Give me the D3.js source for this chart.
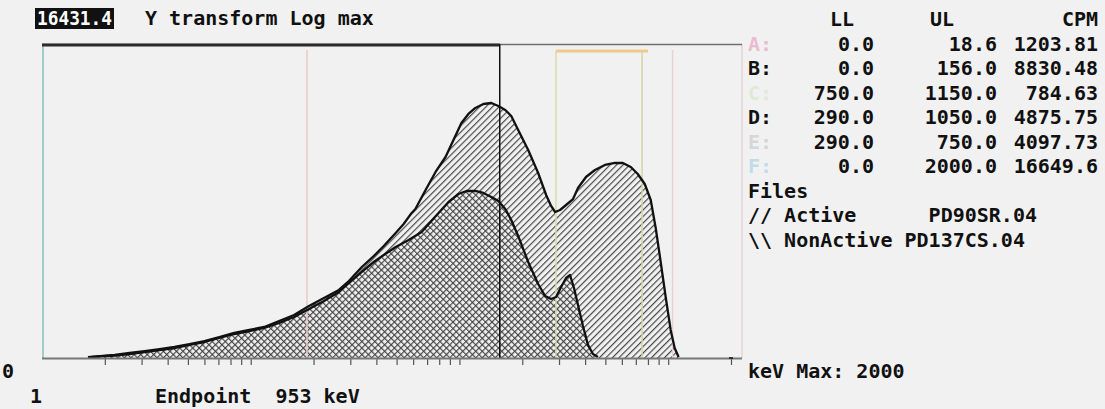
<!DOCTYPE html>
<html>
<head>
<meta charset="utf-8">
<script src="https://cdn.jsdelivr.net/npm/d3@7"></script>
<style>
  html, body { margin: 0; padding: 0; background: #f1f1f1; }
  svg { display: block; }
  text { font-family: "DejaVu Sans Mono", monospace; font-weight: bold; font-size: 20px; fill: #111; }
</style>
</head>
<body>
<svg id="chart" width="1105" height="409"></svg>
<script>
// ---- Spectrum data (energy in keV, counts per channel) ----
const activeKeV = [1.66, 1.89, 2.23, 2.63, 3.10, 3.66, 4.31, 5.09, 6.00, 7.07, 8.34, 9.84, 11.6, 13.68, 16.13, 19.02, 22.43, 26.45, 29.53, 34.06, 38.86, 43.38, 49.49, 54.04, 58.9, 61.5, 68.83, 76.84, 85.77, 93.63, 102.2, 110.4, 119.2, 130.2, 142.2, 153.6, 165.8, 177.1, 191.2, 213.5, 238.3, 260.2, 274.9, 287.2, 303.5, 324.2, 350.1, 369.8, 403.9, 445.9, 497.7, 555.5, 606.6, 662.2, 715.1, 772.3, 825.0, 871.6, 920.8, 972.9, 1028, 1074, 1122];
const activeCounts = [1.03, 1.06, 1.10, 1.17, 1.24, 1.32, 1.41, 1.54, 1.69, 1.91, 2.17, 2.38, 2.61, 3.14, 3.78, 4.99, 6.39, 8.19, 10.81, 16.67, 23.42, 31.89, 47.69, 62.97, 88.0, 100.0, 180.2, 314.4, 499.5, 845.2, 1429, 1888, 2273, 2572, 2653, 2418, 2137, 1775, 1151, 620.3, 304.6, 154.3, 109.9, 91.25, 97.06, 113.3, 136.3, 191.6, 269.2, 334.3, 390.2, 415.0, 415.0, 366.7, 295.4, 216.8, 132.2, 55.65, 19.45, 6.59, 2.38, 1.36, 1.03];

const nonActiveKeV = [1.70, 1.89, 2.23, 2.63, 3.10, 3.66, 4.31, 5.09, 6.00, 7.07, 8.34, 9.84, 11.6, 13.68, 16.13, 19.02, 22.43, 26.45, 29.53, 34.06, 38.86, 43.38, 49.49, 57.10, 65.87, 72.71, 79.40, 88.62, 98.92, 108.0, 119.2, 130.2, 142.2, 153.6, 165.8, 177.1, 191.2, 213.5, 238.3, 257.4, 274.9, 290.4, 306.9, 324.2, 338.8, 353.9, 369.8, 390.7, 412.8, 436.1, 460.8];
const nonActiveCounts = [1.03, 1.05, 1.08, 1.13, 1.20, 1.28, 1.36, 1.50, 1.64, 1.86, 2.10, 2.30, 2.53, 2.95, 3.55, 4.55, 5.83, 7.69, 10.16, 14.28, 19.45, 24.15, 30.93, 38.39, 49.17, 66.97, 88.45, 124.3, 159.2, 174.7, 174.7, 164.2, 145.1, 128.2, 100.1, 71.26, 43.45, 19.45, 9.85, 6.80, 6.20, 6.59, 8.98, 11.86, 13.01, 8.71, 5.15, 2.69, 1.50, 1.13, 1.03];

// ---- Counting regions ----
const regionNames = ["A", "B", "C", "D", "E", "F"];
const regionLL = [0.0, 0.0, 750.0, 290.0, 290.0, 0.0];
const regionUL = [18.6, 156.0, 1150.0, 1050.0, 750.0, 2000.0];
const regionCPM = ["1203.81", "8830.48", "784.63", "4875.75", "4097.73", "16649.6"];
const regionColors = ["#e9bcd0", "#111111", "#e0e9d8", "#111111", "#d6d6d6", "#c2dbea"];

const fileTags = ["// Active      ", "\\\\ NonActive "];
const fileNames = ["PD90SR.04", "PD137CS.04"];

const yMaxCounts = 16431.4;
const keVMax = 2000;
const endpointKeV = 953;

// ---- Scales ----
const svg = d3.select("#chart");
const plot = { left: 42, right: 731, top: 44, bottom: 358, frameRight: 742 };

const x = d3.scaleLog().domain([1, keVMax]).range([plot.left, plot.right]);
const y = d3.scaleLog().domain([1, yMaxCounts]).range([plot.bottom, plot.top]);

// ---- Hatch patterns ----
const defs = svg.append("defs");
function hatch(id, angle) {
  const p = defs.append("pattern")
    .attr("id", id)
    .attr("patternUnits", "userSpaceOnUse")
    .attr("width", 4.6).attr("height", 4.6)
    .attr("patternTransform", `rotate(${angle})`);
  p.append("line")
    .attr("x1", 0.6).attr("y1", -1).attr("x2", 0.6).attr("y2", 6)
    .attr("stroke", "#3c3c3c").attr("stroke-width", 1.1);
}
hatch("hatchActive", 45);
hatch("hatchNonActive", -45);

// ---- Frame ----
svg.append("rect")
  .attr("x", plot.left).attr("y", plot.top)
  .attr("width", plot.frameRight - plot.left).attr("height", plot.bottom - plot.top)
  .attr("fill", "#f1f1f1").attr("stroke", "none");

svg.append("line")
  .attr("x1", plot.frameRight).attr("x2", plot.frameRight)
  .attr("y1", plot.top).attr("y2", plot.bottom)
  .attr("stroke", "#e2d4d6").attr("stroke-width", 1.5);
svg.append("line")
  .attr("x1", plot.left).attr("x2", plot.frameRight)
  .attr("y1", plot.top + 0.5).attr("y2", plot.top + 0.5)
  .attr("stroke", "#6f6f6f").attr("stroke-width", 1.5);
// Left edge (region F lower limit)
svg.append("line")
  .attr("x1", plot.left + 1).attr("x2", plot.left + 1)
  .attr("y1", plot.top).attr("y2", plot.bottom)
  .attr("stroke", "#9fcfc2").attr("stroke-width", 2);

// ---- Spectra ----
const activePts = activeKeV.map((e, i) => [e, activeCounts[i]]);
const nonActivePts = nonActiveKeV.map((e, i) => [e, nonActiveCounts[i]]);

const area = d3.area()
  .x(d => x(d[0]))
  .y0(y(1))
  .y1(d => y(Math.max(1, d[1])));
const line = d3.line()
  .x(d => x(d[0]))
  .y(d => y(Math.max(1, d[1])));

svg.append("path").datum(activePts)
  .attr("d", area).attr("fill", "url(#hatchActive)");
svg.append("path").datum(nonActivePts)
  .attr("d", area).attr("fill", "url(#hatchNonActive)");

// ---- Region limit markers ----
const markerLines = [
  { e: regionUL[0], color: "#e7c9cf", w: 1.5, top: plot.top + 6 },   // A upper limit
  { e: regionLL[3], color: "#d9dca6", w: 1.5, top: plot.top + 7 },   // D/E lower limit
  { e: regionUL[4], color: "#d3d6a6", w: 1.5, top: plot.top + 7 },   // E upper / C lower limit
  { e: regionUL[3], color: "#ead0d0", w: 1.5, top: plot.top + 6 }    // D upper limit
];
svg.selectAll("line.marker").data(markerLines).enter().append("line")
  .attr("class", "marker")
  .attr("x1", d => x(d.e)).attr("x2", d => x(d.e))
  .attr("y1", d => d.top).attr("y2", plot.bottom)
  .attr("stroke", d => d.color).attr("stroke-width", d => d.w);

// Region bars along the top edge
svg.append("line")
  .attr("x1", x(1)).attr("x2", x(regionUL[1]))
  .attr("y1", plot.top + 1).attr("y2", plot.top + 1)
  .attr("stroke", "#2e2a30").attr("stroke-width", 3);
svg.append("line")
  .attr("x1", x(regionLL[4])).attr("x2", x(regionUL[4]) + 6)
  .attr("y1", plot.top + 7).attr("y2", plot.top + 7)
  .attr("stroke", "#f1c98f").attr("stroke-width", 3);

// Outlines
svg.append("path").datum(activePts)
  .attr("d", line).attr("fill", "none")
  .attr("stroke", "#111").attr("stroke-width", 2.3).attr("stroke-linejoin", "round");
svg.append("path").datum(nonActivePts)
  .attr("d", line).attr("fill", "none")
  .attr("stroke", "#111").attr("stroke-width", 2.3).attr("stroke-linejoin", "round");

// Region B upper limit
svg.append("line")
  .attr("x1", x(regionUL[1])).attr("x2", x(regionUL[1]))
  .attr("y1", plot.top).attr("y2", plot.bottom)
  .attr("stroke", "#111").attr("stroke-width", 1.5);

// ---- Energy axis ----
const axis = d3.axisBottom(x)
  .tickValues(x.ticks().filter(t => t > 1))
  .tickFormat("")
  .tickSizeInner(7)
  .tickSizeOuter(0);
const gAxis = svg.append("g")
  .attr("transform", `translate(0,${plot.bottom})`)
  .call(axis);
gAxis.select(".domain").remove();
gAxis.selectAll(".tick line").attr("stroke", "#555").attr("stroke-width", 1.2);
svg.append("line")
  .attr("x1", plot.left).attr("x2", plot.frameRight)
  .attr("y1", plot.bottom + 0.5).attr("y2", plot.bottom + 0.5)
  .attr("stroke", "#777").attr("stroke-width", 2);
svg.append("line")
  .attr("x1", x(keVMax) - 2).attr("x2", x(keVMax) + 2)
  .attr("y1", plot.bottom).attr("y2", plot.bottom)
  .attr("stroke", "#111").attr("stroke-width", 1.5);

// ---- Text ----
// Y max badge
svg.append("rect").attr("x", 35).attr("y", 8).attr("width", 79).attr("height", 21).attr("fill", "#111");
svg.append("text").attr("x", 37).attr("y", 25)
  .attr("textLength", 75).attr("lengthAdjust", "spacingAndGlyphs")
  .style("fill", "#fff").text(yMaxCounts.toFixed(1));
svg.append("text").attr("x", 145).attr("y", 25).text("Y transform Log max");

// Region table
const colLL = 874, colUL = 997, colCPM = 1098, labelX = 748;
const rowY0 = 26, rowStep = 24.5;
svg.append("text").attr("x", 830).attr("y", rowY0).text("LL");
svg.append("text").attr("x", 930).attr("y", rowY0).text("UL");
svg.append("text").attr("x", colCPM).attr("y", rowY0).attr("text-anchor", "end").text("CPM");

regionNames.forEach((name, i) => {
  const ry = rowY0 + rowStep * (i + 1);
  svg.append("text").attr("x", labelX).attr("y", ry).style("fill", regionColors[i]).text(name + ":");
  svg.append("text").attr("x", colLL).attr("y", ry).attr("text-anchor", "end").text(regionLL[i].toFixed(1));
  svg.append("text").attr("x", colUL).attr("y", ry).attr("text-anchor", "end").text(regionUL[i].toFixed(1));
  svg.append("text").attr("x", colCPM).attr("y", ry).attr("text-anchor", "end").text(regionCPM[i]);
});

const filesY = rowY0 + rowStep * 7;
svg.append("text").attr("x", labelX).attr("y", filesY).text("Files");
fileTags.forEach((tag, i) => {
  svg.append("text").attr("x", labelX).attr("y", filesY + rowStep * (i + 1))
    .attr("xml:space", "preserve").style("white-space", "pre")
    .text(tag + fileNames[i]);
});

// Axis captions
svg.append("text").attr("x", 2).attr("y", 378).text("0");
svg.append("text").attr("x", 30).attr("y", 403).text("1");
svg.append("text").attr("x", 155).attr("y", 403)
  .attr("xml:space", "preserve").style("white-space", "pre")
  .text(`Endpoint  ${endpointKeV} keV`);
svg.append("text").attr("x", labelX).attr("y", 378).text(`keV Max: ${keVMax}`);
</script>
</body>
</html>
